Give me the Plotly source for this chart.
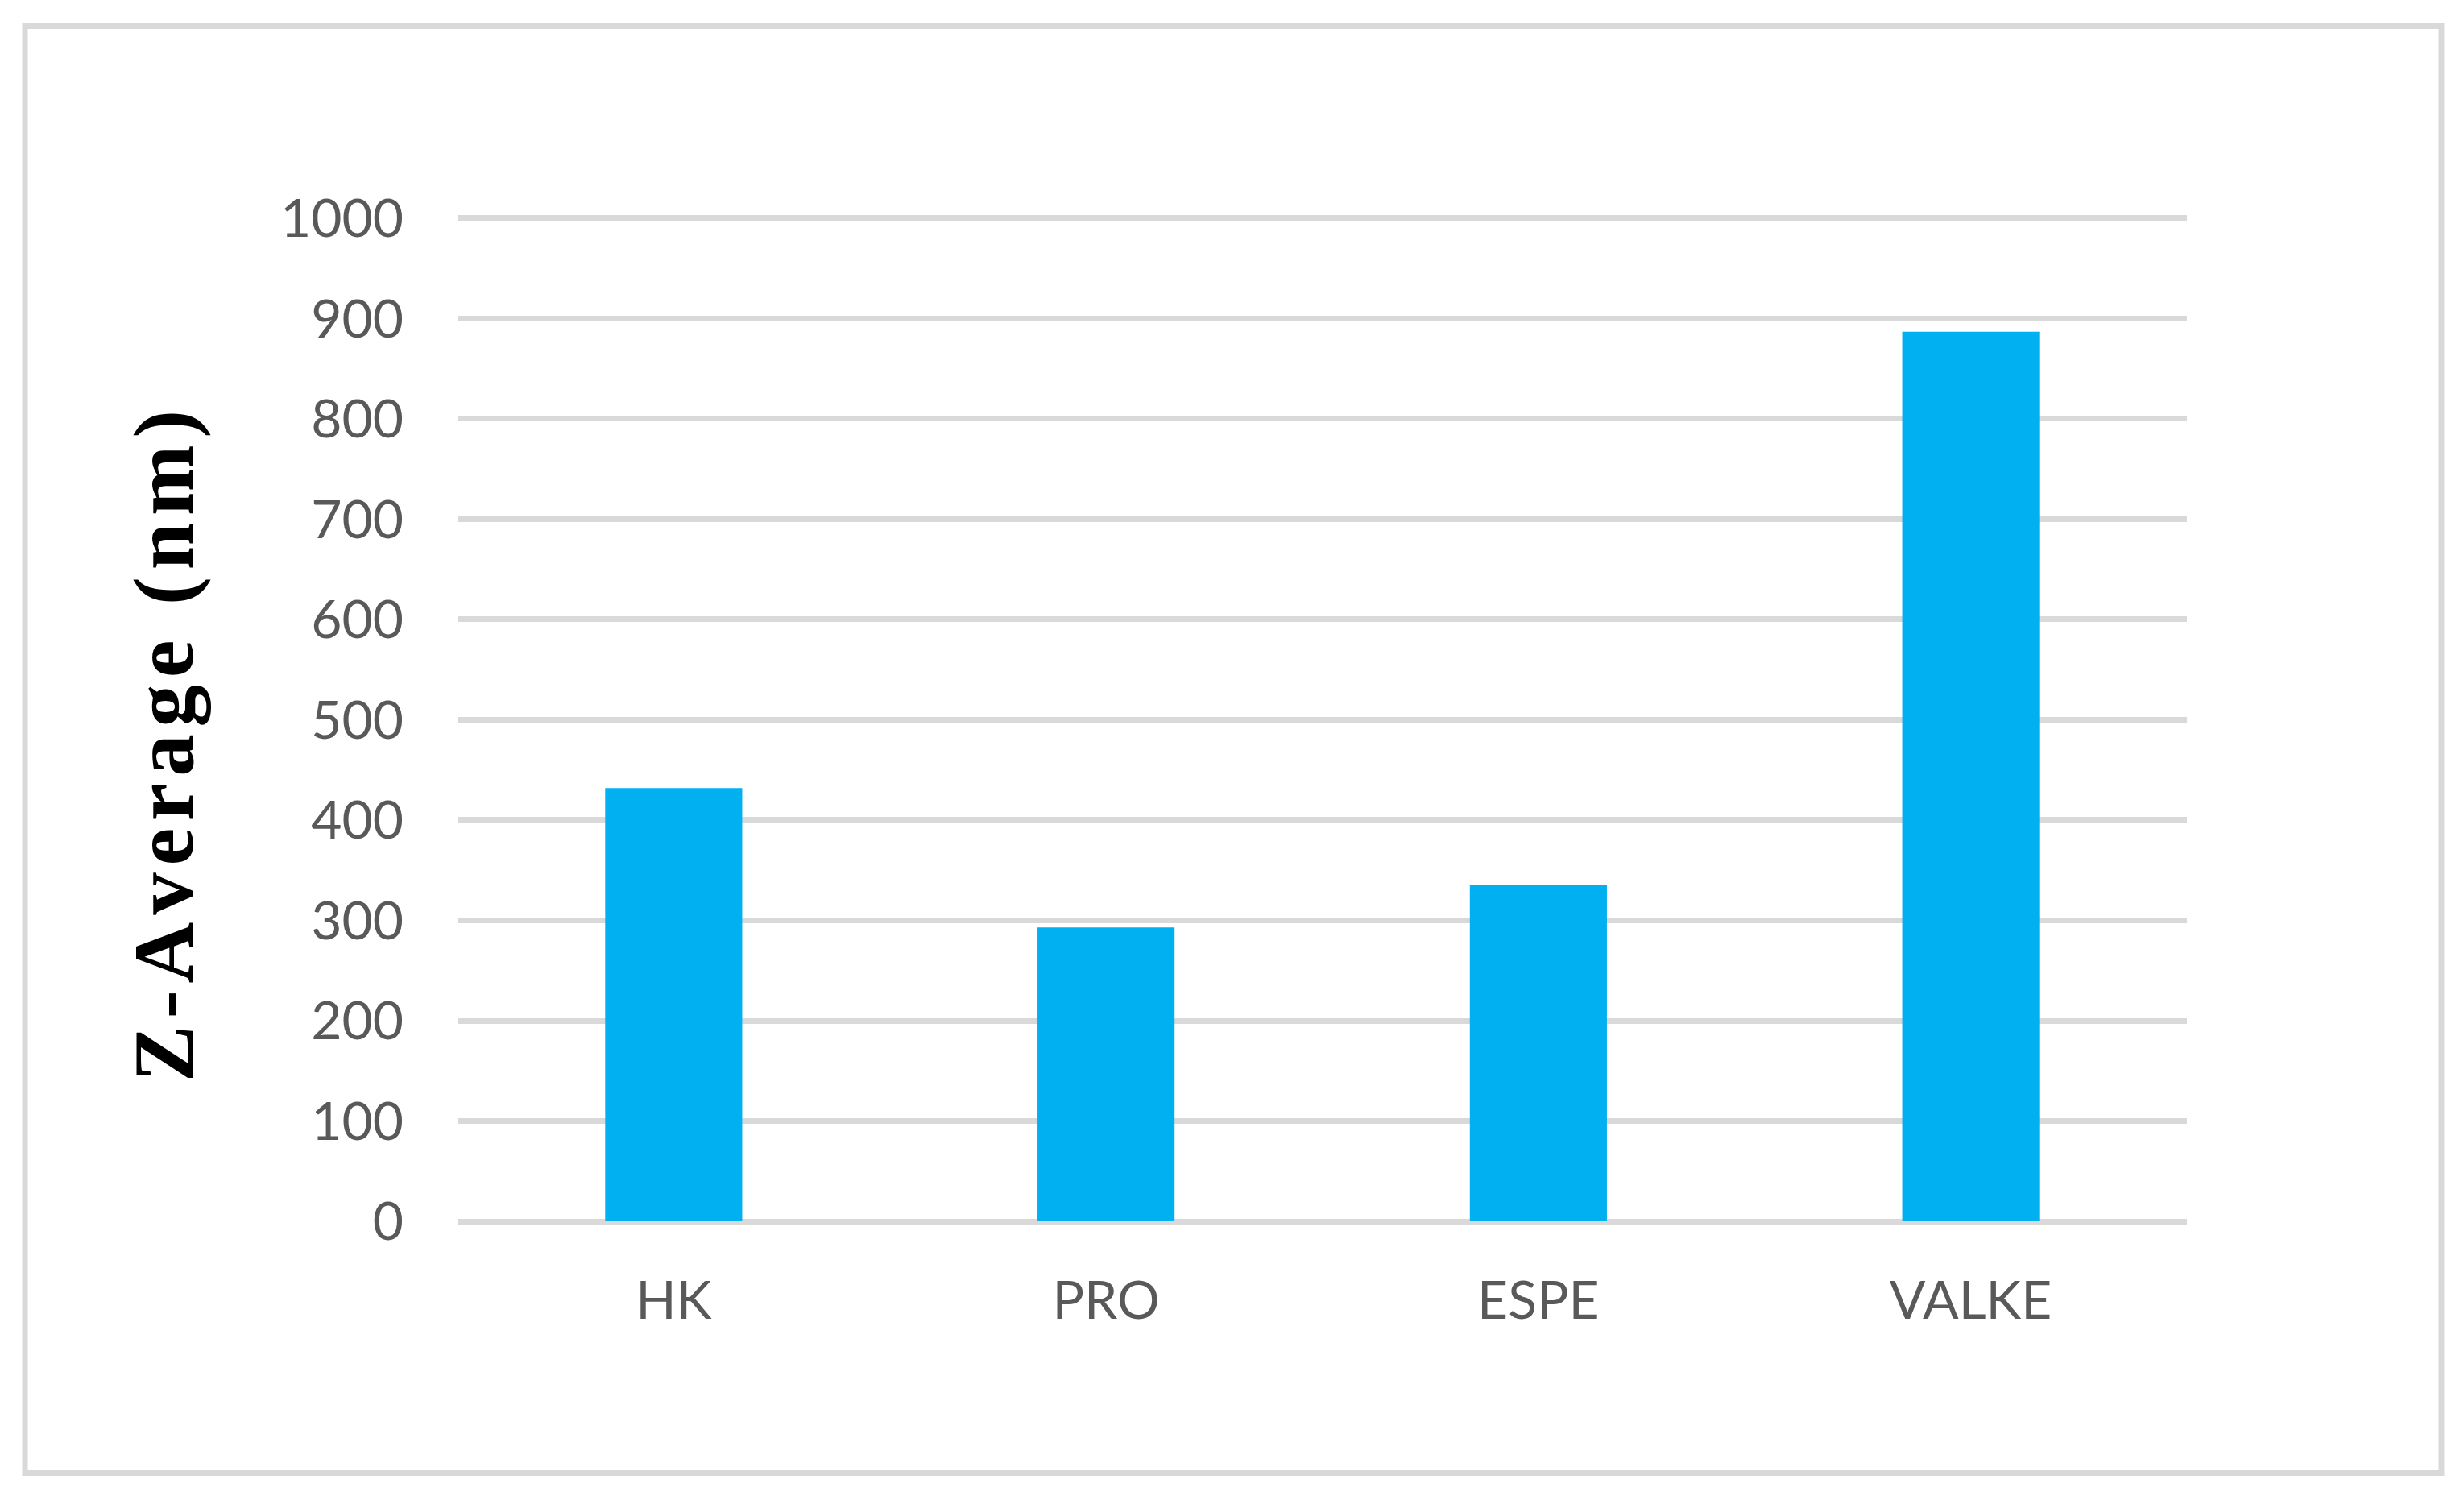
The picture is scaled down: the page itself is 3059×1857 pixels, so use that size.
import plotly.graph_objects as go

categories = ["HK", "PRO", "ESPE", "VALKE"]
z_average = [432, 293, 335, 887]
y_ticks = [0, 100, 200, 300, 400, 500, 600, 700, 800, 900, 1000]

OFF = 8  # default body margin of the page
W, H = 3059 - 2 * OFF, 1857 - 2 * OFF

# target positions in page pixels
PL, PR, PT, PB = 568, 2715, 271, 1516
EXTRA = 4  # units above 1000 so the top gridline is drawn
px_per_unit = (PB - PT) / 1000.0
top_px = PT - EXTRA * px_per_unit

fig = go.Figure()
fig.add_trace(go.Bar(x=categories, y=z_average, marker=dict(color="#00B0F0", line=dict(width=0)),
                     showlegend=False, hoverinfo="x+y"))

tick_font = dict(family="Lato, Open Sans, sans-serif", size=66, color="#595959")


def xp(px):
    return (px - PL) / (PR - PL)


def yp(py):
    return (PB - py) / (PB - top_px)


title = "\u200a".join(list("Z-Average (nm)"))

fig.update_layout(
    width=W, height=H,
    margin=dict(l=PL - OFF, r=(3059 - OFF) - PR, t=top_px - OFF, b=(1857 - OFF) - PB),
    paper_bgcolor="white", plot_bgcolor="white",
    bargap=0.683,
    xaxis=dict(showgrid=False, showline=False, zeroline=False, ticks="",
               tickfont=tick_font, ticklabelstandoff=54),
    yaxis=dict(range=[0, 1000 + EXTRA], tickvals=y_ticks, showgrid=True, gridcolor="#D9D9D9",
               gridwidth=6.5, zeroline=True, zerolinecolor="#D9D9D9", zerolinewidth=6.5,
               showline=False, ticks="", tickfont=tick_font, ticklabelstandoff=66),
    shapes=[dict(type="rect", xref="paper", yref="paper",
                 x0=xp(31), x1=xp(3031), y0=yp(1828.5), y1=yp(32.5),
                 line=dict(color="#D9D9D9", width=7), layer="below")],
    annotations=[dict(text="<b>" + title + "</b>", xref="paper", yref="paper",
                      x=xp(204), y=yp(926),
                      showarrow=False, textangle=-90, xanchor="center", yanchor="middle",
                      font=dict(family="Liberation Serif, Times New Roman, serif", size=105, color="black"))],
)
fig.write_html("out.html")
